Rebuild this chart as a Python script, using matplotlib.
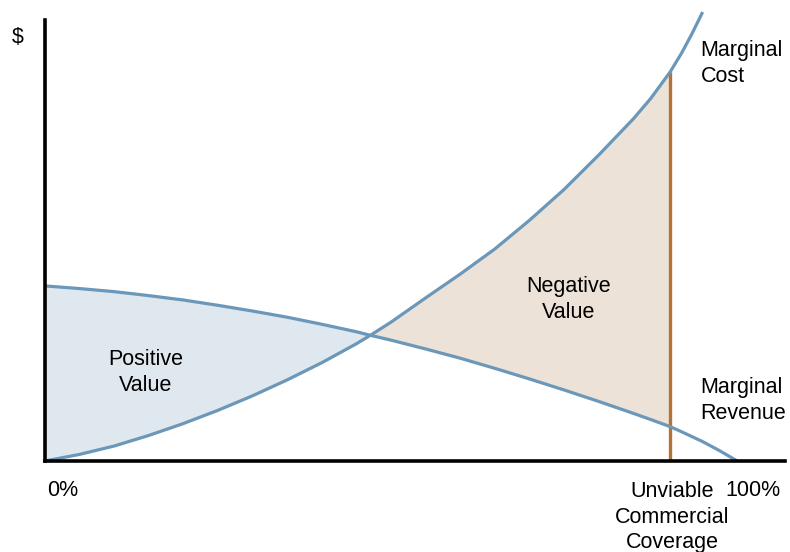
import matplotlib
matplotlib.use("Agg")
import matplotlib.pyplot as plt

plt.rcParams['font.family'] = ['Liberation Sans', 'DejaVu Sans']

# Coverage (%) and values ($, arbitrary units)
coverage = [0, 5, 10, 15, 20, 25, 30, 35, 40, 45, 47, 50, 55, 60, 65, 70, 75,
            80, 85, 87.5, 90.3, 92, 93.5, 95]
marginal_cost = [0, 1.5, 3.4, 5.8, 8.5, 11.5, 14.8, 18.4, 22.3, 26.6, 28.5,
                 31.5, 37.0, 42.4, 48.1, 54.6, 61.6, 69.4, 77.6, 82.2, 88.2,
                 92.6, 97.0, 101.8]
rev_coverage = coverage + [97.5, 100]
marginal_revenue = [39.7, 39.1, 38.4, 37.5, 36.5, 35.3, 34.0, 32.6, 31.0, 29.3,
                    28.5, 27.4, 25.4, 23.3, 21.0, 18.6, 16.1, 13.5, 10.8, 9.4,
                    7.8, 6.6, 5.5, 4.4, 2.3, 0]
crossover = 47
unviable = 90.3

blue = '#6b97b9'
fig = plt.figure(figsize=(7.9, 5.52), dpi=100)
ax = fig.add_axes([45/790, 91/552, 740/790, 456/552])
ax.set_xlim(0, 106.9)
ax.set_ylim(0, 103.4)

n_pos = coverage.index(crossover) + 1
n_neg = coverage.index(unviable) + 1
ax.fill_between(coverage[:n_pos], marginal_cost[:n_pos], marginal_revenue[:n_pos],
                color='#dfe7ef', lw=0, zorder=1)
ax.fill_between(coverage[n_pos-1:n_neg], marginal_revenue[n_pos-1:n_neg],
                marginal_cost[n_pos-1:n_neg], color='#ece2d7', lw=0, zorder=1)

ax.plot(coverage, marginal_cost, color=blue, lw=2.3, zorder=3, clip_on=False,
        solid_capstyle='butt', solid_joinstyle='round')
ax.plot(rev_coverage, marginal_revenue, color=blue, lw=2.3, zorder=3,
        solid_capstyle='butt', solid_joinstyle='round')
ax.plot([unviable, unviable], [0, marginal_cost[n_neg-1]], color='#b57235',
        lw=2.4, zorder=2, solid_capstyle='butt')

for s in ['top', 'right']:
    ax.spines[s].set_visible(False)
ax.spines['left'].set_linewidth(2.6)
ax.spines['bottom'].set_linewidth(2.6)
ax.spines['left'].set_bounds(0, 100)
ax.spines['left'].set_zorder(4)
ax.spines['bottom'].set_zorder(4)
ax.set_xticks([])
ax.set_yticks([])

fs = 15.5
ls = 1.33
ax.text(-3.9, 96.1, '$', fontsize=fs, ha='center', va='center')
ax.text(0.3, -6.6, '0%', fontsize=fs, ha='left', va='center')
ax.text(90.6, -12.7, 'Unviable\nCommercial\nCoverage', fontsize=fs, ha='center',
        va='center', linespacing=1.3)
ax.text(102.2, -6.6, '100%', fontsize=fs, ha='center', va='center')
ax.text(94.7, 90.1, 'Marginal\nCost', fontsize=fs, ha='left', va='center',
        linespacing=ls)
ax.text(94.7, 13.7, 'Marginal\nRevenue', fontsize=fs, ha='left', va='center',
        linespacing=ls)
ax.text(14.5, 20.0, 'Positive\nValue', fontsize=fs, ha='center', va='center',
        linespacing=ls)
ax.text(75.6, 36.6, 'Negative\nValue', fontsize=fs, ha='center', va='center',
        linespacing=ls)

fig.savefig('out.png', dpi=100)
